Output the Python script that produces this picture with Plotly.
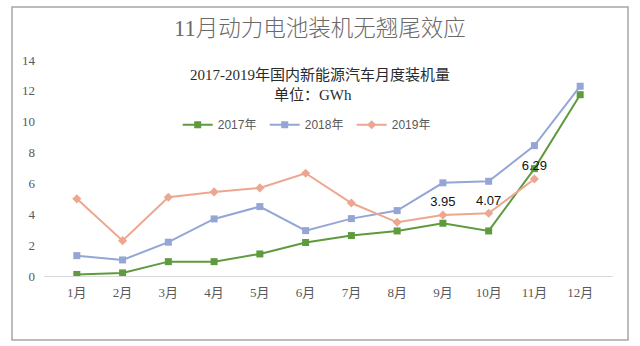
import plotly.graph_objects as go

months = ["1月", "2月", "3月", "4月", "5月", "6月", "7月", "8月", "9月", "10月", "11月", "12月"]
y2017 = [0.10, 0.20, 0.93, 0.93, 1.43, 2.17, 2.62, 2.92, 3.42, 2.92, 6.96, 11.75]
y2018 = [1.32, 1.04, 2.19, 3.70, 4.50, 2.94, 3.72, 4.24, 6.04, 6.14, 8.45, 12.30]
y2019 = [5.00, 2.29, 5.10, 5.45, 5.71, 6.66, 4.73, 3.48, 3.95, 4.07, 6.29]
labels2019 = ["", "", "", "", "", "", "", "", "3.95", "4.07", "6.29"]

serif = "Liberation Serif, Noto Sans CJK SC, serif"
sans = "Liberation Sans, Noto Sans CJK SC, sans-serif"

fig = go.Figure()
fig.add_trace(go.Scatter(
    x=months, y=y2017, name="2017年", mode="lines+markers",
    line=dict(color="#5e9a3e", width=2),
    marker=dict(symbol="square", size=7, color="#5e9a3e")))
fig.add_trace(go.Scatter(
    x=months, y=y2018, name="2018年", mode="lines+markers",
    line=dict(color="#93a6d6", width=2),
    marker=dict(symbol="square", size=7, color="#93a6d6")))
fig.add_trace(go.Scatter(
    x=months[:len(y2019)], y=y2019, name="2019年", mode="lines+markers+text",
    line=dict(color="#eda68f", width=2),
    marker=dict(symbol="diamond", size=7, color="#eda68f"),
    text=labels2019, textposition="top center",
    textfont=dict(family=sans, size=13, color="#111111")))

fig.update_layout(
    width=640, height=346,
    margin=dict(l=44, r=27, t=60, b=70),
    paper_bgcolor="white", plot_bgcolor="white",
    showlegend=True,
    legend=dict(orientation="h", x=0.235, y=0.70, xanchor="left", yanchor="middle",
                font=dict(family=sans, size=12, color="#595959"),
                bgcolor="rgba(0,0,0,0)", entrywidth=42, entrywidthmode="pixels",
                tracegroupgap=0),
    xaxis=dict(type="category", showgrid=False, showline=True, linecolor="#d9d9d9", linewidth=1,
               ticks="", tickfont=dict(family=serif, size=13, color="#595959"), zeroline=False,
               ticklabelstandoff=4),
    yaxis=dict(range=[0, 14], dtick=2, showgrid=False, showline=False, zeroline=False,
               ticks="", tickfont=dict(family=serif, size=13, color="#595959"), ticklabelstandoff=8),
    annotations=[
        dict(text="11月动力电池装机无翘尾效应", xref="paper", yref="paper", x=0.485, y=1.148,
             yanchor="middle", showarrow=False,
             font=dict(family=serif, size=22.5, color="#6a6a6a", weight=300)),
        dict(text="2017-2019年国内新能源汽车月度装机量", xref="paper", yref="paper", x=0.485, y=0.931,
             yanchor="middle", showarrow=False, font=dict(family=serif, size=15, color="#2a2a2a")),
        dict(text="单位：GWh", xref="paper", yref="paper", x=0.473, y=0.838,
             yanchor="middle", showarrow=False, font=dict(family=serif, size=15, color="#2a2a2a")),
    ],
    shapes=[dict(type="rect", xref="paper", yref="paper",
                 x0=-0.0562, x1=1.0264, y0=-0.296, y1=1.245,
                 line=dict(color="#a6a6a6", width=1.5), fillcolor="rgba(0,0,0,0)")],
)

fig.write_html("out.html")
